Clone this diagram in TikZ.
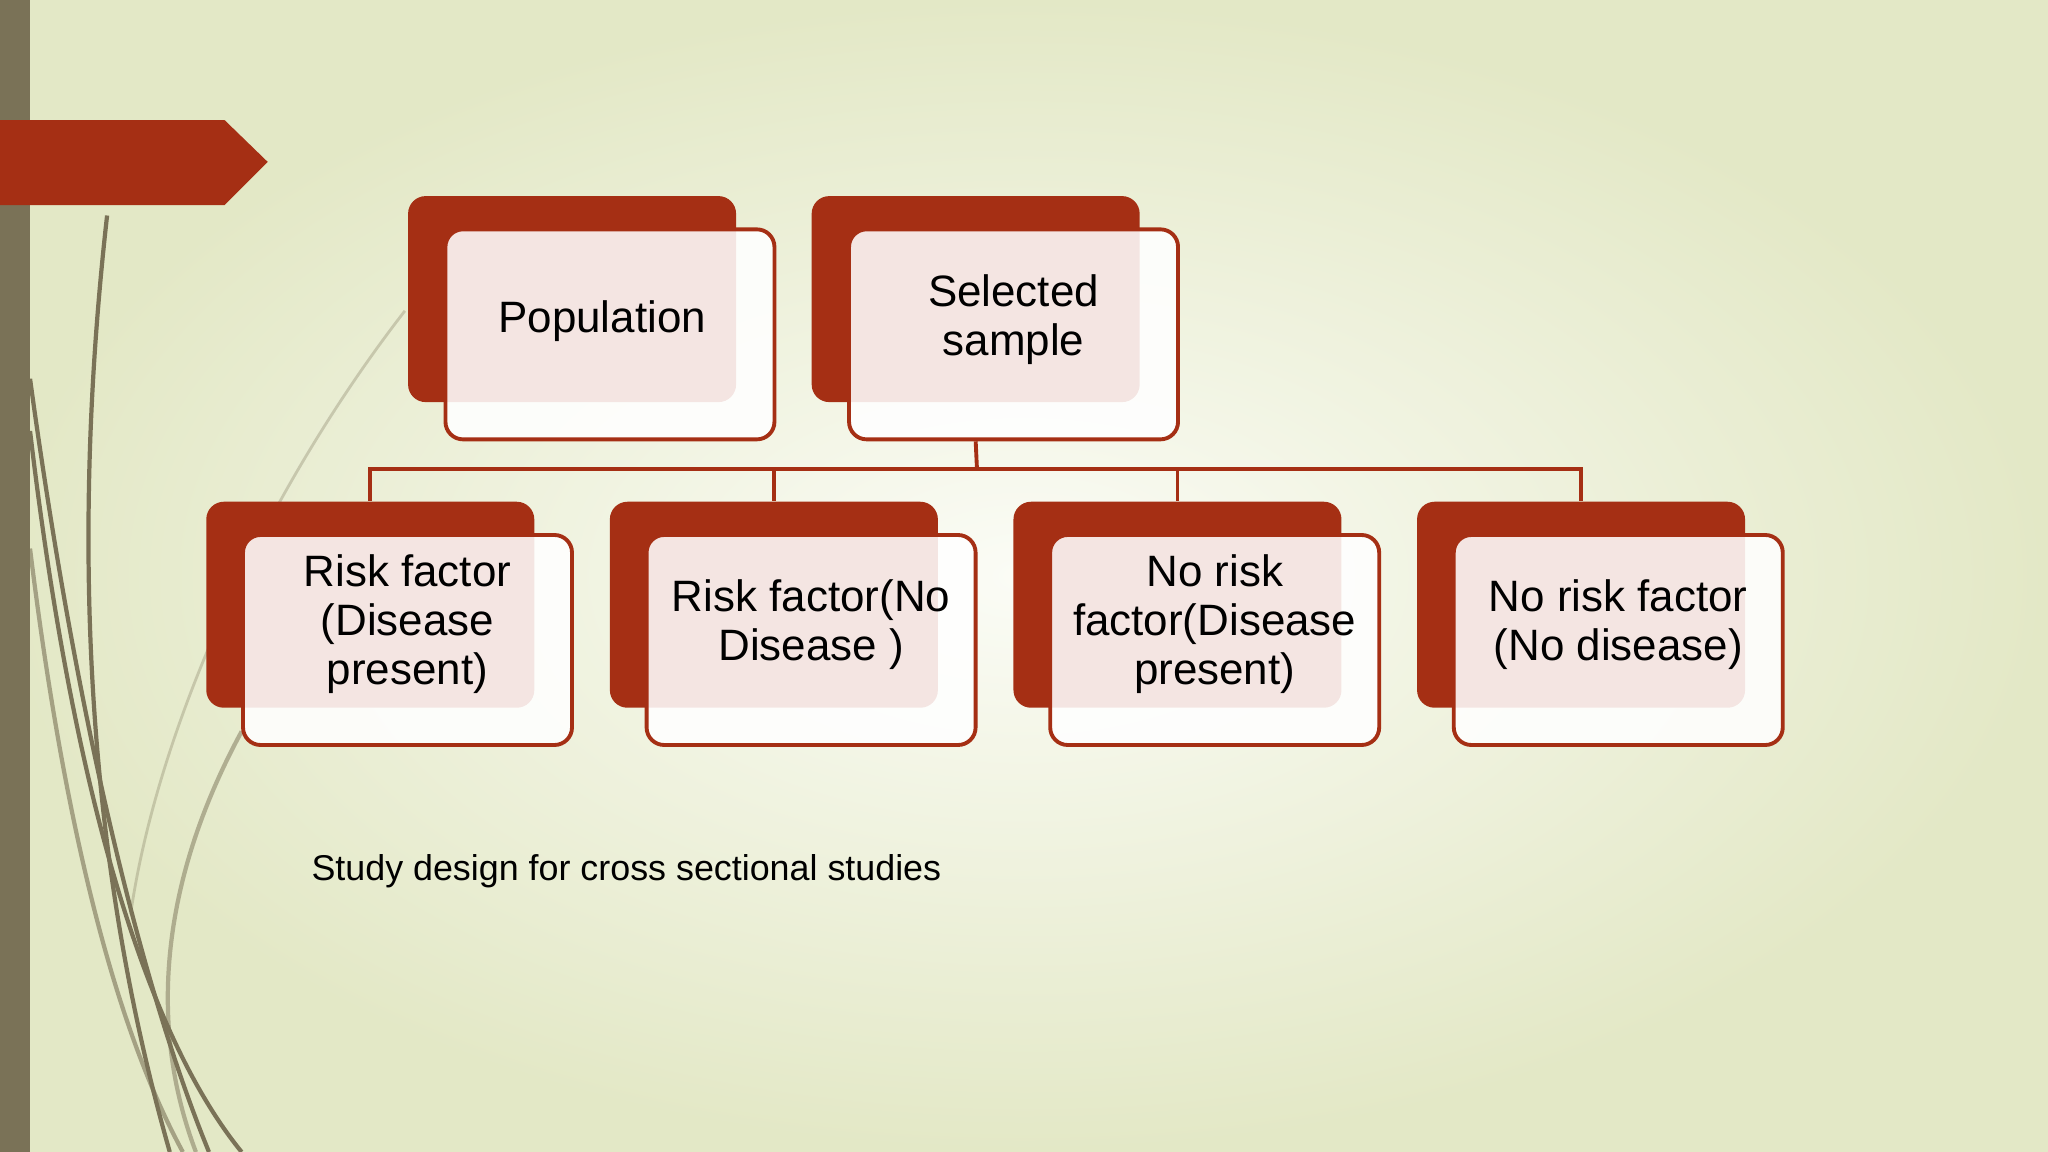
\documentclass[tikz,border=0pt]{standalone}
\usepackage{fontspec}
\setmainfont{Liberation Sans}
\usetikzlibrary{positioning,calc}
\definecolor{brick}{HTML}{A52F14}
\definecolor{olive}{HTML}{7A7257}
\definecolor{bgout}{HTML}{E3E8C6}
\definecolor{bgin}{HTML}{FBFCF6}
\tikzset{
  back/.style={fill=brick,rounded corners=5pt,minimum width=3.28cm,minimum height=2.06cm,inner sep=0pt},
  front/.style={draw=brick,line width=1.1pt,fill=white,fill opacity=0.88,text opacity=1,
    rounded corners=5pt,minimum width=3.29cm,minimum height=2.1cm,inner sep=0pt,
    align=center,font=\fontsize{12.5}{14}\selectfont},
  link/.style={draw=brick,line width=1.1pt},
  stem/.style={olive,line width=1.2pt},
}
\begin{document}
\begin{tikzpicture}[x=0.013061cm,y=-0.013061cm]
\useasboundingbox (0,0) rectangle (1568,882);
% Background
\shade[inner color=bgin,outer color=bgout] (0,0) rectangle (1568,882);
\fill[olive] (0,0) rectangle (23,882);
% Decorative stems
\draw[stem] (23,290) .. controls (60,560) and (110,760) .. (160,882);
\draw[stem] (23,330) .. controls (55,600) and (110,790) .. (185,882);
\draw[stem] (82,165) .. controls (60,360) and (55,620) .. (130,882);
\draw[stem,opacity=0.6] (23,420) .. controls (50,640) and (90,790) .. (140,882);
\draw[stem,opacity=0.5] (185,560) .. controls (120,680) and (115,790) .. (150,882);
\draw[stem,opacity=0.3,line width=0.8pt] (310,238) .. controls (200,380) and (120,560) .. (100,700);
% Banner
\fill[brick] (0,92) -- (172,92) -- (205,124) -- (172,157) -- (0,157) -- cycle;
% Boxes
\node[back] (popB) at (438,229) {};
\node[front] (popF) at (467,256) {};
\node at (461,246) [font=\fontsize{12.5}{14}\selectfont] {Population};
\node[back] (selB) at (747,229) {};
\node[front] (selF) at (776,256) {};
\node at (776,245) [align=center,font=\fontsize{12.5}{14}\selectfont] {Selected\\sample};
\foreach \n/\t [count=\i from 0] in {rfd/{Risk factor\\(Disease\\present)},
    rfn/{Risk factor(No\\Disease )},
    nrd/{No risk\\factor(Disease\\present)},
    nrn/{No risk factor\\(No disease)}} {
  \node[back] (\n B) at (283.5+309*\i,463) {};
  \node[front] (\n F) at (312+309*\i,490) {};
  \node at (312+309*\i,478) [align=center,font=\fontsize{12.5}{14}\selectfont] {\t};
}
% Connectors
\coordinate (bus) at (748,359);
\draw[link] (selB.center |- selF.south) -- (bus);
\foreach \n in {rfd,rfn,nrd,nrn}
  \draw[link] (bus) -| (\n B.north);
% Caption
\node[anchor=west,font=\fontsize{10.2}{12}\selectfont] (cap) at (229,667) {Study design for cross sectional studies};
\end{tikzpicture}
\end{document}
